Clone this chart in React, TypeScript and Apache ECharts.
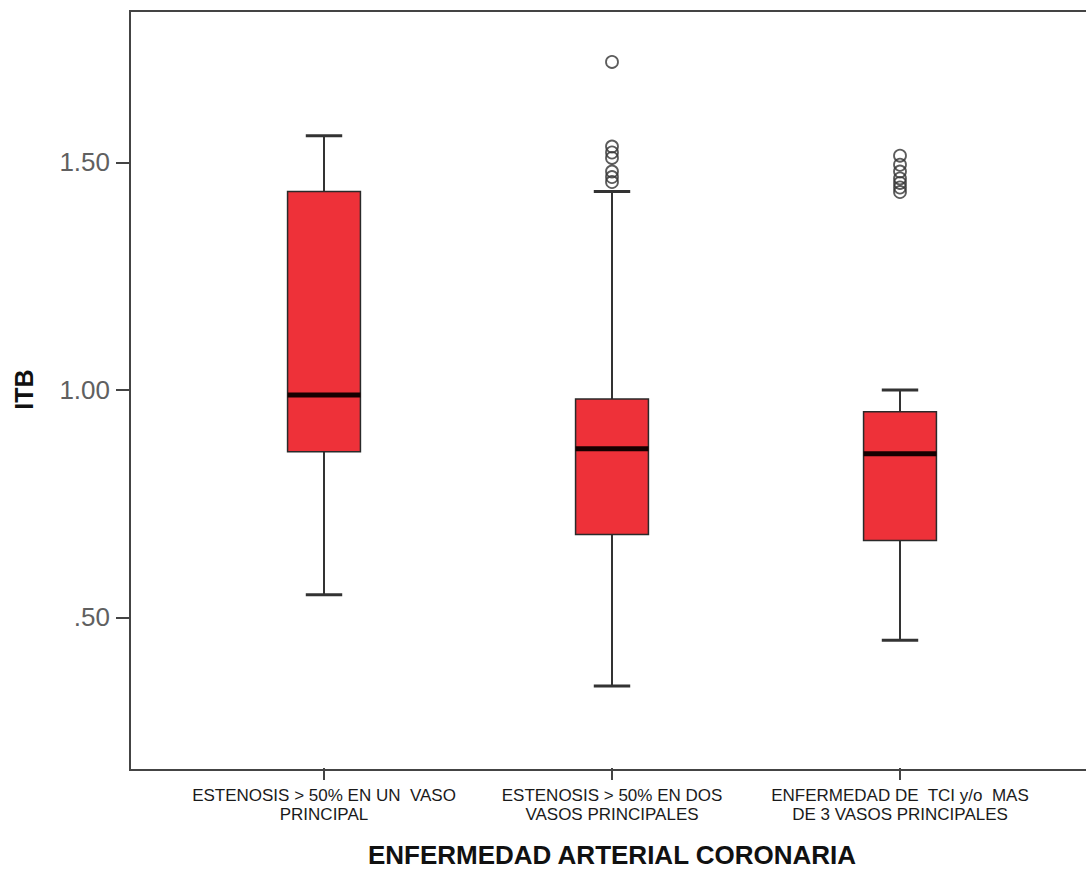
import React, { useEffect, useRef } from "react";
import * as echarts from "echarts";

const categories = [
  "ESTENOSIS > 50% EN UN  VASO\nPRINCIPAL",
  "ESTENOSIS > 50% EN DOS\nVASOS PRINCIPALES",
  "ENFERMEDAD DE  TCI y/o  MAS\nDE 3 VASOS PRINCIPALES",
];
const whiskerLow = [0.55, 0.349, 0.45];
const q1 = [0.864, 0.682, 0.669];
const median = [0.989, 0.871, 0.86];
const q3 = [1.436, 0.98, 0.952];
const whiskerHigh = [1.559, 1.436, 1.0];
const outliersCat1: number[] = [];
const outliersCat2 = [1.721, 1.535, 1.522, 1.51, 1.48, 1.468, 1.457];
const outliersCat3 = [1.515, 1.495, 1.48, 1.465, 1.455, 1.445, 1.435];
const yTicks = [0.5, 1.0, 1.5];
const yMin = 0.169;
const yMax = 1.833;

const FONT = "'Liberation Sans', Arial, sans-serif";

export default function App() {
  const ref = useRef<HTMLDivElement>(null);
  useEffect(() => {
    if (!ref.current) return;
    const chart = echarts.init(ref.current, undefined, { renderer: "svg" });
    const boxData = categories.map((_, i) => [i, whiskerLow[i], q1[i], median[i], q3[i], whiskerHigh[i]]);
    const outlierData: number[][] = [];
    [outliersCat1, outliersCat2, outliersCat3].forEach((arr, i) => arr.forEach((v) => outlierData.push([i, v])));

    chart.setOption({
      animation: false,
      backgroundColor: "#ffffff",
      grid: { left: 180, right: 42, top: 11, bottom: 103, containLabel: false },
      xAxis: {
        type: "category",
        data: categories,
        boundaryGap: true,
        axisLine: { show: false },
        axisTick: { show: true, alignWithLabel: true, length: 12, lineStyle: { color: "#444", width: 2 } },
        axisLabel: {
          interval: 0,
          fontSize: 17,
          lineHeight: 19,
          color: "#1a1a1a",
          margin: 18,
          fontFamily: FONT,
        },
        splitLine: { show: false },
        name: "ENFERMEDAD ARTERIAL CORONARIA",
        nameLocation: "middle",
        nameGap: 74,
        nameTextStyle: { fontSize: 26, fontWeight: "bold", color: "#111", fontFamily: FONT },
      },
      yAxis: {
        type: "value",
        min: yMin,
        max: yMax,
        offset: 50,
        splitLine: { show: false },
        axisLine: { show: true, lineStyle: { color: "#444", width: 2 } },
        axisTick: { show: true, customValues: yTicks, length: 14, lineStyle: { color: "#444", width: 2 } },
        axisLabel: {
          customValues: yTicks,
          formatter: (v: number) => (v < 1 ? v.toFixed(2).replace(/^0/, "") : v.toFixed(2)),
          fontSize: 26,
          color: "#606060",
          margin: 20,
          fontFamily: FONT,
        },
        name: "ITB",
        nameLocation: "middle",
        nameRotate: 90,
        nameGap: 94,
        nameTextStyle: { fontSize: 25, fontWeight: "bold", color: "#111", fontFamily: FONT },
      },
      graphic: [
        {
          type: "polyline",
          silent: true,
          z: 0,
          shape: { points: [[1086, 11], [130, 11], [130, 770], [1086, 770]] },
          style: { fill: "none", stroke: "#444", lineWidth: 2 },
        },
      ],
      series: [
        {
          type: "custom",
          data: boxData,
          encode: { x: 0, y: [1, 2, 3, 4, 5] },
          renderItem: (params: any, api: any) => {
            const i = api.value(0);
            const pLow = api.coord([i, api.value(1)]);
            const pQ1 = api.coord([i, api.value(2)]);
            const pMed = api.coord([i, api.value(3)]);
            const pQ3 = api.coord([i, api.value(4)]);
            const pHigh = api.coord([i, api.value(5)]);
            const band = api.size([1, 0])[0];
            const bw = band * 0.253;
            const cx = pMed[0];
            const cap = bw / 2;
            const wStyle = { stroke: "#333", lineWidth: 2, fill: "none" };
            return {
              type: "group",
              children: [
                { type: "line", shape: { x1: cx, y1: pHigh[1], x2: cx, y2: pQ3[1] }, style: wStyle },
                { type: "line", shape: { x1: cx, y1: pQ1[1], x2: cx, y2: pLow[1] }, style: wStyle },
                { type: "line", shape: { x1: cx - cap / 2, y1: pHigh[1], x2: cx + cap / 2, y2: pHigh[1] }, style: { ...wStyle, lineWidth: 3 } },
                { type: "line", shape: { x1: cx - cap / 2, y1: pLow[1], x2: cx + cap / 2, y2: pLow[1] }, style: { ...wStyle, lineWidth: 3 } },
                {
                  type: "rect",
                  shape: { x: cx - bw / 2, y: pQ3[1], width: bw, height: pQ1[1] - pQ3[1] },
                  style: { fill: "#ee3139", stroke: "#2a2a2a", lineWidth: 1.5 },
                },
                {
                  type: "line",
                  shape: { x1: cx - bw / 2, y1: pMed[1], x2: cx + bw / 2, y2: pMed[1] },
                  style: { stroke: "#160000", lineWidth: 5 },
                },
              ],
            };
          },
          z: 2,
        },
        {
          type: "scatter",
          data: outlierData,
          symbol: "circle",
          symbolSize: 12,
          itemStyle: { color: "rgba(0,0,0,0)", borderColor: "#333", borderWidth: 1.8 },
          z: 3,
        },
      ],
    });
    return () => chart.dispose();
  }, []);
  return <div ref={ref} style={{ position: "fixed", left: 0, top: 0, width: 1086, height: 873 }} />;
}
